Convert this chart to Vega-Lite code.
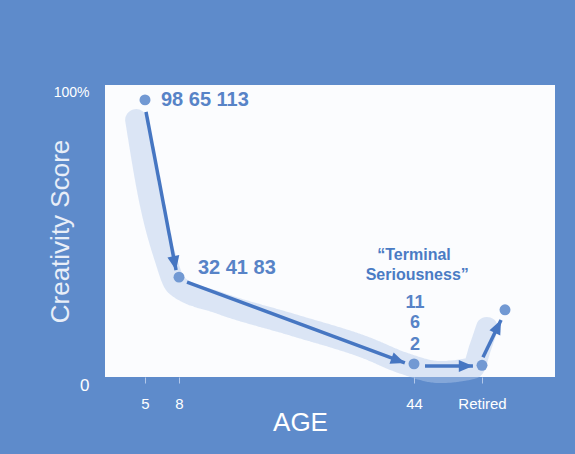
{
  "$schema": "https://vega.github.io/schema/vega-lite/v6.json",
  "autosize": {"type": "none"},
  "width": 450,
  "height": 292,
  "padding": {"left": 105, "top": 85, "right": 20, "bottom": 77},
  "background": "#5e8bcb",
  "view": {"fill": "#fbfcfe", "stroke": null},
  "config": {"font": "Liberation Sans"},
  "datasets": {
    "pts": [
      {"age": 5, "score": 0.949},
      {"age": 8, "score": 0.342},
      {"age": 44, "score": 0.045},
      {"age": 65, "score": 0.04},
      {"age": 72, "score": 0.23}
    ],
    "shadow": [
      {"age": 3.9, "score": 0.88},
      {"age": 5.44, "score": 0.606},
      {"age": 6.77, "score": 0.411},
      {"age": 7.74, "score": 0.315},
      {"age": 14.3, "score": 0.253},
      {"age": 25.5, "score": 0.178},
      {"age": 36.8, "score": 0.099},
      {"age": 42.3, "score": 0.048},
      {"age": 52, "score": 0.017},
      {"age": 62.2, "score": 0.031},
      {"age": 64.4, "score": 0.099},
      {"age": 66.5, "score": 0.168}
    ],
    "arrows": [
      {"id": "a1", "x1": 5.09, "y1": 0.908, "x2": 7.74, "y2": 0.366},
      {"id": "a2", "x1": 9.23, "y1": 0.325, "x2": 42.6, "y2": 0.048},
      {"id": "a3", "x1": 47.4, "y1": 0.038, "x2": 62.2, "y2": 0.038},
      {"id": "a4", "x1": 65.3, "y1": 0.068, "x2": 70.8, "y2": 0.195}
    ],
    "leftText": [
      {"age": 6.41, "score": 0.949, "text": "98 65 113"},
      {"age": 10.9, "score": 0.373, "text": "32 41 83"}
    ],
    "quote": [
      {"age": 44, "score": 0.418, "text": "“Terminal"},
      {"age": 45, "score": 0.349, "text": "Seriousness”"}
    ],
    "stack": [
      {"age": 44.3, "score": 0.253, "text": "11"},
      {"age": 44.3, "score": 0.185, "text": "6"},
      {"age": 44.3, "score": 0.11, "text": "2"}
    ]
  },
  "encoding": {
    "x": {
      "field": "age",
      "type": "quantitative",
      "scale": {"domain": [0, 5, 8, 44, 65, 72, 80], "range": [0, 40, 74, 309, 377, 400, 450], "nice": false, "zero": false},
      "axis": {
        "values": [5, 8, 44, 65],
        "labelExpr": "datum.value == 65 ? 'Retired' : datum.label",
        "domain": false,
        "grid": false,
        "ticks": true,
        "tickColor": "#b3c8ea",
        "tickSize": 6,
        "labelColor": "#ffffff",
        "labelFontSize": 15,
        "labelPadding": 13,
        "labelBaseline": "top",
        "title": "AGE",
        "titleColor": "#ffffff",
        "titleFontSize": 26,
        "titleFontWeight": "normal",
        "titleX": 195,
        "titleY": 32,
        "titleBaseline": "top",
        "titleAlign": "center"
      }
    },
    "y": {
      "field": "score",
      "type": "quantitative",
      "scale": {"domain": [0, 1], "nice": false},
      "axis": {
        "values": [0, 1],
        "labelExpr": "datum.value == 1 ? '100%' : '0'",
        "domain": false,
        "grid": false,
        "ticks": false,
        "labelColor": "#ffffff",
        "labelFontSize": {"expr": "datum.value == 0 ? 17 : 14"},
        "labelBaseline": "top",
        "labelPadding": 16,
        "title": "Creativity Score",
        "titleColor": "#e8eef8",
        "titleFontSize": 26,
        "titleFontWeight": "normal",
        "titleAngle": -90,
        "titleX": -45,
        "titleY": 146,
        "titleAlign": "center",
        "titleBaseline": "middle"
      }
    }
  },
  "layer": [
    {
      "data": {"name": "shadow"},
      "mark": {"type": "line", "interpolate": "monotone", "strokeWidth": 22, "color": "#b4c9ea", "opacity": 0.45, "strokeCap": "round", "strokeJoin": "round", "strokeDash": [2, 1]}
    },
    {
      "data": {"name": "arrows"},
      "mark": {"type": "rule", "color": "#4676c2", "strokeWidth": 3.5},
      "encoding": {
        "x": {"field": "x1", "type": "quantitative"},
        "y": {"field": "y1", "type": "quantitative"},
        "x2": {"field": "x2"},
        "y2": {"field": "y2"}
      }
    },
    {
      "data": {"name": "arrows"},
      "mark": {"type": "point", "shape": "M0,0L0.85,2L-0.85,2Z", "filled": true, "color": "#4676c2", "opacity": 1, "size": 200},
      "encoding": {
        "x": {"field": "x2", "type": "quantitative"},
        "y": {"field": "y2", "type": "quantitative"},
        "angle": {
          "condition": [
            {"test": "datum.id == 'a1'", "value": 169},
            {"test": "datum.id == 'a2'", "value": 110},
            {"test": "datum.id == 'a3'", "value": 90}
          ],
          "value": 26
        }
      }
    },
    {
      "data": {"name": "pts"},
      "mark": {"type": "point", "filled": true, "color": "#7299d3", "opacity": 1, "size": 120}
    },
    {
      "data": {"name": "leftText"},
      "mark": {"type": "text", "align": "left", "baseline": "middle", "fontSize": 20, "fontWeight": "bold", "color": "#5783c7"},
      "encoding": {"text": {"field": "text"}}
    },
    {
      "data": {"name": "quote"},
      "mark": {"type": "text", "align": "center", "baseline": "middle", "fontSize": 16, "fontWeight": "bold", "color": "#4a7bc4"},
      "encoding": {"text": {"field": "text"}}
    },
    {
      "data": {"name": "stack"},
      "mark": {"type": "text", "align": "center", "baseline": "middle", "fontSize": 18, "fontWeight": "bold", "color": "#5783c7"},
      "encoding": {"text": {"field": "text"}}
    }
  ]
}
